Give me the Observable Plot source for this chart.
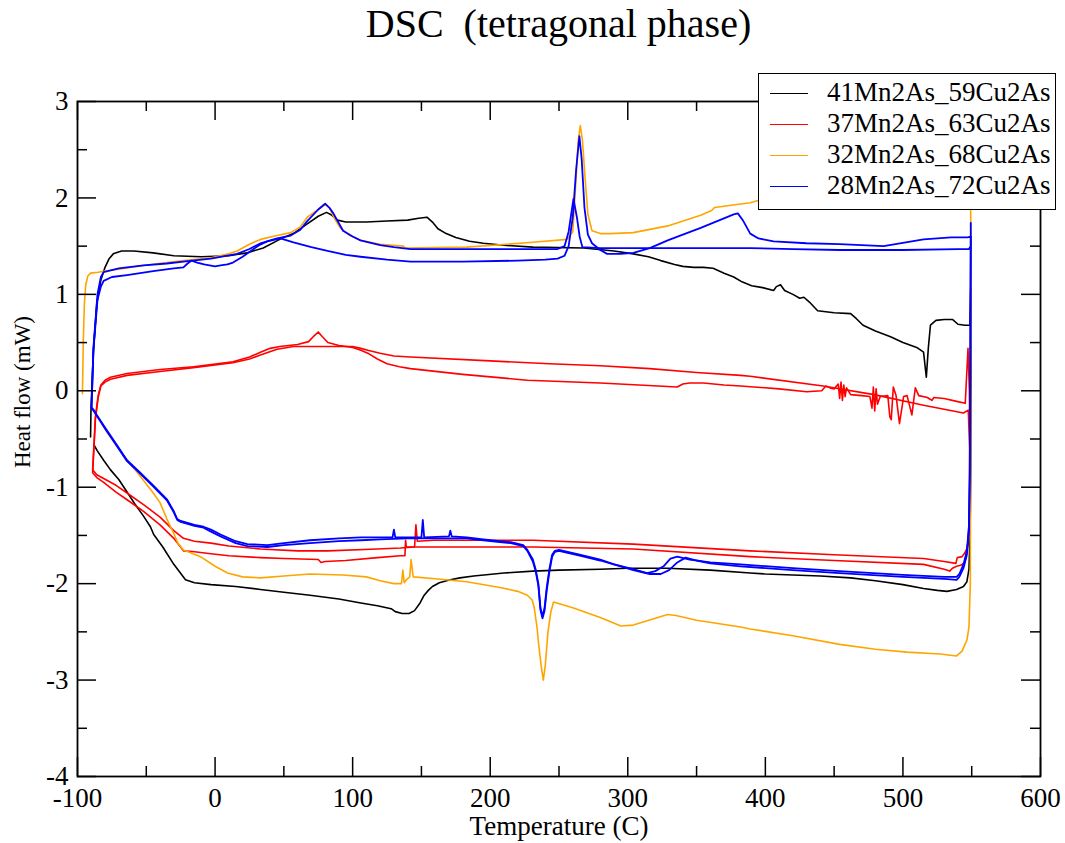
<!DOCTYPE html>
<html><head><meta charset="utf-8">
<script src="https://cdn.jsdelivr.net/npm/d3@7"></script>
<script src="https://cdn.jsdelivr.net/npm/@observablehq/plot@0.6"></script>
<style>
body{margin:0;background:#fff;}
#wrap{position:relative;width:1065px;height:843px;font-family:"Liberation Serif","Times New Roman",serif;color:#000;}
#title{position:absolute;left:77px;width:963px;top:4px;text-align:center;font-size:40px;line-height:40px;white-space:pre;}
#chart{position:absolute;left:0;top:60px;}
#ylabel{position:absolute;left:22px;top:392px;transform:translate(-50%,-50%) rotate(-90deg);font-size:23px;line-height:23px;white-space:nowrap;}
#legend{position:absolute;left:758px;top:73px;width:298px;height:137px;box-sizing:border-box;border:1.5px solid #000;background:#fff;}
.sw{position:absolute;left:11px;width:38px;height:0;border-top:1.6px solid #000;}
.lt{position:absolute;left:68px;font-size:27px;line-height:27px;white-space:nowrap;}
</style></head>
<body>
<div id="wrap">
  <div id="title">DSC  (tetragonal phase)</div>
  <div id="chart"></div>
  <div id="ylabel">Heat flow (mW)</div>
  <div id="legend"></div>
</div>
<script>
// ---- data: [temperature (C), heat flow (mW)] ----
const seriesNames = ["41Mn2As_59Cu2As", "37Mn2As_63Cu2As", "32Mn2As_68Cu2As", "28Mn2As_72Cu2As"];
const seriesColors = ["#000000", "#ff0000", "#ffa500", "#0000ff"];
const xMajor = [-100, 0, 100, 200, 300, 400, 500, 600];
const xMinor = [-50, 50, 150, 250, 350, 450, 550];
const yMajor = [-4, -3, -2, -1, 0, 1, 2, 3];
const yMinor = [-3.5, -2.5, -1.5, -0.5, 0.5, 1.5, 2.5];

const black = [[-90.5,-0.48],[-90.2,-0.2],[-88.5,0.4],[-86,0.9],[-83,1.15],[-80,1.28],[-77,1.37],[-74,1.42],[-68,1.45],[-59,1.45],[-45,1.43],[-30,1.40],[-10,1.39],[10,1.40],[23,1.43],[35,1.48],[47,1.57],[58,1.64],[67,1.73],[75,1.81],[81,1.85],[85,1.82],[89,1.77],[95,1.75],[110,1.75],[125,1.76],[140,1.77],[148,1.79],[154,1.80],[158,1.75],[162,1.68],[168,1.63],[175,1.59],[185,1.55],[195,1.53],[210,1.51],[231,1.49],[268,1.48],[290,1.45],[304,1.42],[315,1.39],[324,1.35],[334,1.31],[340,1.29],[348,1.28],[355,1.28],[362,1.27],[370,1.22],[377,1.18],[383,1.13],[390,1.09],[398,1.07],[406,1.04],[408,1.08],[411,1.10],[414,1.04],[420,1.00],[425,0.96],[428,0.97],[432,0.92],[438,0.83],[450,0.81],[462,0.80],[466,0.75],[471,0.68],[480,0.62],[491,0.56],[500,0.50],[510,0.45],[515,0.40],[517,0.14],[518.5,0.45],[520,0.68],[524,0.73],[530,0.74],[536,0.74],[540,0.69],[545,0.68],[548.7,0.68],[549.3,1.06],[549.6,0.2],[549.3,-0.8],[548.8,-1.5],[548,-1.85],[546.5,-1.98],[544,-2.03],[539,-2.06],[532,-2.08],[525,-2.07],[515,-2.05],[500,-2.01],[480,-1.97],[462,-1.94],[440,-1.92],[420,-1.91],[400,-1.90],[389,-1.89],[360,-1.86],[329,-1.84],[300,-1.84],[280,-1.85],[250,-1.86],[231,-1.87],[210,-1.89],[188,-1.92],[178,-1.94],[171,-1.96],[163,-1.99],[158,-2.03],[155,-2.07],[152,-2.12],[149,-2.2],[145,-2.28],[141,-2.31],[136,-2.31],[131,-2.29],[128,-2.26],[118,-2.23],[106,-2.20],[90,-2.16],[69,-2.12],[50,-2.09],[33,-2.06],[15,-2.03],[-3,-2.01],[-15,-1.99],[-21.5,-1.96],[-30,-1.80],[-38,-1.62],[-44.6,-1.49],[-47,-1.41],[-52,-1.30],[-58,-1.18],[-64,-1.05],[-70,-0.92],[-76,-0.82],[-81,-0.72],[-85.7,-0.62],[-88,-0.56]];

const redA = [[-89,-0.82],[-88,-0.55],[-87,-0.27],[-85,-0.05],[-83,0.06],[-80,0.11],[-76,0.14],[-64,0.18],[-40,0.22],[-15.7,0.25],[13,0.30],[25,0.35],[33,0.40],[40,0.44],[47,0.46],[60,0.48],[68,0.51],[72,0.57],[75,0.61],[78,0.56],[82,0.50],[90,0.47],[100,0.45],[106,0.42],[111,0.39],[118,0.33],[125,0.28],[134,0.25],[142,0.23],[180,0.17],[227,0.11],[280,0.08],[336,0.04],[340,0.07],[345,0.08],[355,0.08],[370,0.06],[382,0.05],[410,0.02],[430,-0.01],[441,0.00],[444,0.05],[447,0.03],[450,0.02],[453,0.07],[454,-0.08],[455,0.09],[456,-0.10],[457,0.06],[458,-0.06],[459,0.03],[462,-0.04],[470,-0.05],[476,-0.06],[477.5,-0.18],[478.5,0.04],[479.5,-0.21],[480.5,0.02],[481.5,-0.14],[483.5,-0.06],[489,-0.05],[490.5,-0.27],[491.5,-0.30],[493,0.04],[495,-0.05],[497.5,-0.34],[499,-0.20],[500.5,-0.06],[503,-0.05],[506.5,-0.25],[509,0.03],[511.5,-0.05],[517.8,-0.07],[520,-0.09],[521,-0.10],[522.5,-0.07],[530,-0.08],[539,-0.11],[545.3,-0.13],[547.3,0.44],[548.3,0.0],[548.8,-0.8],[548,-1.5],[547,-1.62],[545,-1.68],[543,-1.72],[539.5,-1.73],[538.5,-1.79],[530,-1.77],[515,-1.74],[450,-1.70],[389,-1.66],[304,-1.59],[231,-1.55],[159,-1.55],[147,-1.56],[146,-1.39],[145,-1.62],[134.7,-1.63],[118,-1.64],[82,-1.66],[60,-1.66],[33,-1.64],[10,-1.61],[-3,-1.58],[-15,-1.56],[-23,-1.53],[-30,-1.45],[-40,-1.31],[-52,-1.18],[-64,-1.06],[-72,-0.98],[-81,-0.91],[-86,-0.87],[-89,-0.82]];

const redB = [[-89,-0.85],[-88,-0.58],[-87,-0.3],[-85,-0.07],[-83,0.05],[-80,0.09],[-76,0.12],[-64,0.16],[-40,0.20],[-15.7,0.24],[13,0.29],[25,0.33],[33,0.37],[45,0.43],[57,0.46],[70,0.46],[82,0.46],[100,0.46],[106,0.44],[111,0.42],[120,0.39],[130,0.36],[142,0.35],[200,0.31],[243,0.28],[280,0.26],[316,0.23],[350,0.19],[382,0.16],[389,0.15],[442,0.05],[479,-0.04],[515,-0.15],[544,-0.23],[547.5,-0.2],[548.5,-0.6],[548.5,-1.2],[547.5,-1.55],[545,-1.78],[542,-1.81],[539,-1.82],[536,-1.84],[534,-1.87],[530,-1.85],[515,-1.80],[450,-1.76],[389,-1.72],[304,-1.64],[231,-1.62],[159,-1.62],[139,-1.62],[138.5,-1.55],[138,-1.71],[134.7,-1.71],[118,-1.73],[95,-1.76],[80,-1.77],[77,-1.78],[75,-1.75],[50,-1.74],[33,-1.73],[10,-1.71],[-3,-1.69],[-15,-1.67],[-23,-1.66],[-30,-1.53],[-40,-1.39],[-52,-1.25],[-64,-1.13],[-72,-1.05],[-81,-0.95],[-86,-0.90],[-89,-0.85]];

const orange = [[-96.4,-0.03],[-95.8,0.5],[-95,0.9],[-94,1.1],[-92.5,1.19],[-90.5,1.22],[-85,1.23],[-81,1.24],[-70,1.26],[-52,1.30],[-35,1.33],[-23,1.35],[-3,1.38],[10,1.42],[16,1.45],[25,1.52],[33,1.57],[45,1.61],[55,1.64],[62,1.70],[67,1.80],[75,1.88],[80,1.93],[83,1.90],[87,1.78],[91,1.69],[98,1.61],[105.7,1.56],[120,1.52],[137,1.50],[138,1.48],[183,1.49],[231,1.54],[256,1.57],[260,1.65],[262,2.1],[264,2.6],[265.5,2.75],[267,2.6],[269,2.2],[271,1.83],[274,1.66],[280,1.63],[287,1.63],[304,1.64],[329,1.71],[353,1.82],[361,1.87],[363,1.90],[389,1.95],[394,1.97],[450,2.03],[500,2.08],[549,2.12],[549.5,1.5],[549.3,0],[549,-2.0],[548,-2.45],[546.6,-2.58],[543,-2.70],[539,-2.75],[527,-2.73],[503,-2.71],[480,-2.68],[454,-2.63],[420,-2.54],[389,-2.47],[382,-2.45],[350,-2.38],[335,-2.33],[329,-2.32],[320,-2.36],[304,-2.43],[295,-2.44],[280,-2.35],[260,-2.25],[246,-2.19],[244,-2.3],[242,-2.5],[240,-2.85],[238.6,-3.0],[237,-2.85],[235,-2.6],[234,-2.45],[232,-2.25],[230.5,-2.17],[227,-2.12],[220,-2.08],[207,-2.04],[183,-1.98],[160,-1.95],[144,-1.93],[142.5,-1.75],[141.5,-1.93],[139,-1.96],[137.5,-1.99],[136.5,-1.86],[135.5,-2.0],[130,-2.0],[120,-1.97],[110,-1.93],[93,-1.91],[69,-1.90],[50,-1.92],[33,-1.94],[20,-1.93],[9,-1.89],[0,-1.82],[-10.6,-1.72],[-23,-1.65],[-27,-1.58],[-30,-1.48],[-35,-1.33],[-40,-1.16],[-46,-1.04],[-52,-0.93],[-58,-0.82],[-64,-0.72],[-72,-0.56],[-78,-0.44],[-82,-0.35]];

const blueA = [[-89.8,-0.17],[-88.4,0.42],[-85.5,0.94],[-83,1.08],[-81,1.14],[-75,1.18],[-64,1.20],[-45,1.24],[-30,1.27],[-23,1.28],[-20,1.32],[-17,1.35],[-13,1.33],[-8,1.31],[0,1.29],[4,1.30],[9,1.31],[13,1.33],[20,1.39],[26,1.45],[32,1.51],[38,1.55],[47.5,1.58],[57,1.54],[70,1.49],[81.7,1.45],[95,1.41],[105.7,1.39],[125,1.36],[142,1.34],[180,1.34],[220,1.35],[240,1.36],[249,1.37],[254,1.40],[257,1.5],[260,1.8],[262.5,2.3],[264.8,2.64],[266.5,2.4],[268.5,1.9],[271,1.62],[274,1.53],[280,1.46],[285,1.42],[295,1.42],[304,1.43],[316,1.48],[329,1.56],[353,1.69],[377,1.83],[380,1.84],[384,1.76],[389,1.63],[395,1.58],[406,1.55],[430,1.53],[454,1.52],[486,1.50],[515,1.57],[535,1.59],[547,1.59],[549.3,1.6],[549.3,1.55],[549,0.5],[548.6,-0.8],[548,-1.4],[546.5,-1.66],[544,-1.80],[541,-1.90],[539,-1.93],[530,-1.93],[500,-1.91],[454,-1.87],[420,-1.84],[382,-1.80],[360,-1.78],[345,-1.75],[336,-1.72],[331,-1.74],[326,-1.82],[320,-1.87],[314,-1.89],[304,-1.85],[290,-1.80],[280,-1.75],[265,-1.70],[250,-1.65],[247,-1.66],[245,-1.70],[243,-1.85],[241,-2.05],[239.5,-2.25],[238,-2.34],[236.5,-2.25],[235,-2.0],[233,-1.85],[231,-1.75],[227,-1.65],[224,-1.60],[215,-1.57],[207,-1.56],[195,-1.54],[183,-1.52],[172,-1.51],[171,-1.45],[170,-1.51],[152,-1.52],[151,-1.34],[150,-1.52],[140,-1.52],[131,-1.52],[130,-1.44],[129,-1.52],[106,-1.52],[90,-1.53],[69,-1.55],[50,-1.58],[38,-1.60],[23.5,-1.59],[15,-1.56],[4,-1.49],[-3,-1.44],[-8.4,-1.41],[-15,-1.39],[-20,-1.37],[-25,-1.35],[-27.5,-1.33],[-30,-1.25],[-34.8,-1.13],[-45,-0.98],[-55,-0.84],[-64,-0.72],[-72,-0.55],[-80,-0.38],[-86,-0.25],[-88.2,-0.2],[-89.8,-0.17]];

const blueB = [[-89.8,-0.17],[-88.4,0.45],[-85.5,1.0],[-83,1.18],[-81,1.23],[-70,1.27],[-52,1.30],[-35,1.32],[-23,1.34],[-3,1.37],[16,1.42],[25,1.47],[33,1.53],[45,1.58],[55,1.61],[62,1.67],[67,1.76],[75,1.88],[80,1.94],[83,1.90],[86,1.84],[93,1.66],[100,1.60],[105.7,1.56],[120,1.51],[130,1.49],[142,1.47],[200,1.47],[249,1.47],[254,1.5],[257,1.65],[260.5,1.99],[263,1.8],[265,1.6],[267,1.49],[280,1.48],[330,1.48],[389,1.48],[420,1.47],[454,1.46],[500,1.46],[540,1.47],[548,1.47],[549.3,1.5],[549.3,1.74],[549.3,1.5],[549,0.3],[548.6,-0.9],[548,-1.45],[546.5,-1.7],[544,-1.84],[541,-1.93],[539,-1.96],[530,-1.95],[500,-1.93],[454,-1.89],[420,-1.86],[382,-1.82],[360,-1.79],[350,-1.76],[342,-1.73],[336,-1.78],[330,-1.86],[324,-1.90],[316,-1.90],[304,-1.86],[290,-1.80],[280,-1.76],[265,-1.71],[250,-1.66],[247,-1.67],[245,-1.72],[243,-1.88],[241,-2.08],[239.5,-2.28],[238,-2.36],[236.5,-2.27],[235,-2.02],[233,-1.87],[231,-1.77],[227,-1.66],[224,-1.61],[215,-1.58],[207,-1.57],[195,-1.55],[183,-1.53],[150,-1.53],[140,-1.53],[120,-1.54],[106,-1.55],[90,-1.56],[69,-1.58],[50,-1.60],[38,-1.62],[23.5,-1.61],[15,-1.58],[4,-1.51],[-3,-1.46],[-8.4,-1.42],[-15,-1.40],[-20,-1.38],[-25,-1.36],[-27.5,-1.34],[-30,-1.26],[-34.8,-1.14],[-45,-0.99],[-55,-0.85],[-64,-0.73],[-72,-0.56],[-80,-0.39],[-86,-0.26],[-88.2,-0.21],[-89.8,-0.18]];

// ---- layout ----
const W = 1065, H = 783, mL = 77, mR = 25, mT = 41, mB = 67;
const fW = W - mL - mR, fH = H - mT - mB;
const majorLen = 19, minorLen = 10;

const curves = [
  {data: black, color: seriesColors[0], w: 1.6},
  {data: redA, color: seriesColors[1], w: 1.6},
  {data: redB, color: seriesColors[1], w: 1.6},
  {data: orange, color: seriesColors[2], w: 1.6},
  {data: blueA, color: seriesColors[3], w: 1.8},
  {data: blueB, color: seriesColors[3], w: 1.8}
];

const fmt = d => String(d);
const chart = Plot.plot({
  width: W, height: H,
  marginLeft: mL, marginRight: mR, marginTop: mT, marginBottom: mB,
  x: {domain: [-100, 600]},
  y: {domain: [-4, 3]},
  style: {fontFamily: '"Liberation Serif", "Times New Roman", serif', background: "white", color: "black"},
  marks: [
    ...curves.map(c => Plot.line(c.data, {x: d => d[0], y: d => d[1], stroke: c.color, strokeWidth: c.w, clip: true})),
    Plot.tickX(xMajor, {x: d => d, insetTop: fH - majorLen, stroke: "black", strokeWidth: 1.5}),
    Plot.tickX(xMajor, {x: d => d, insetBottom: fH - majorLen, stroke: "black", strokeWidth: 1.5}),
    Plot.tickX(xMinor, {x: d => d, insetTop: fH - minorLen, stroke: "black", strokeWidth: 1.5}),
    Plot.tickX(xMinor, {x: d => d, insetBottom: fH - minorLen, stroke: "black", strokeWidth: 1.5}),
    Plot.tickY(yMajor, {y: d => d, insetRight: fW - majorLen, stroke: "black", strokeWidth: 1.5}),
    Plot.tickY(yMajor, {y: d => d, insetLeft: fW - majorLen, stroke: "black", strokeWidth: 1.5}),
    Plot.tickY(yMinor, {y: d => d, insetRight: fW - minorLen, stroke: "black", strokeWidth: 1.5}),
    Plot.tickY(yMinor, {y: d => d, insetLeft: fW - minorLen, stroke: "black", strokeWidth: 1.5}),
    Plot.frame({stroke: "black", strokeWidth: 1.8}),
    Plot.axisX(xMajor, {tickSize: 0, tickPadding: 11, tickFormat: fmt, fontSize: 27, label: null}),
    Plot.axisY(yMajor, {tickSize: 0, tickPadding: 9, tickFormat: fmt, fontSize: 27, label: null}),
    Plot.text(["Temperature (C)"], {frameAnchor: "bottom", dy: 50, fontSize: 27, lineAnchor: "middle", fill: "black"})
  ]
});
document.getElementById("chart").appendChild(chart);

// ---- legend ----
const leg = document.getElementById("legend");
seriesNames.forEach((name, i) => {
  const sw = document.createElement("div");
  sw.className = "sw";
  sw.style.top = (19 + 31 * i) + "px";
  sw.style.borderTopColor = seriesColors[i];
  leg.appendChild(sw);
  const t = document.createElement("div");
  t.className = "lt";
  t.style.top = (4.5 + 31 * i) + "px";
  t.textContent = name;
  leg.appendChild(t);
});
</script>
</body></html>
